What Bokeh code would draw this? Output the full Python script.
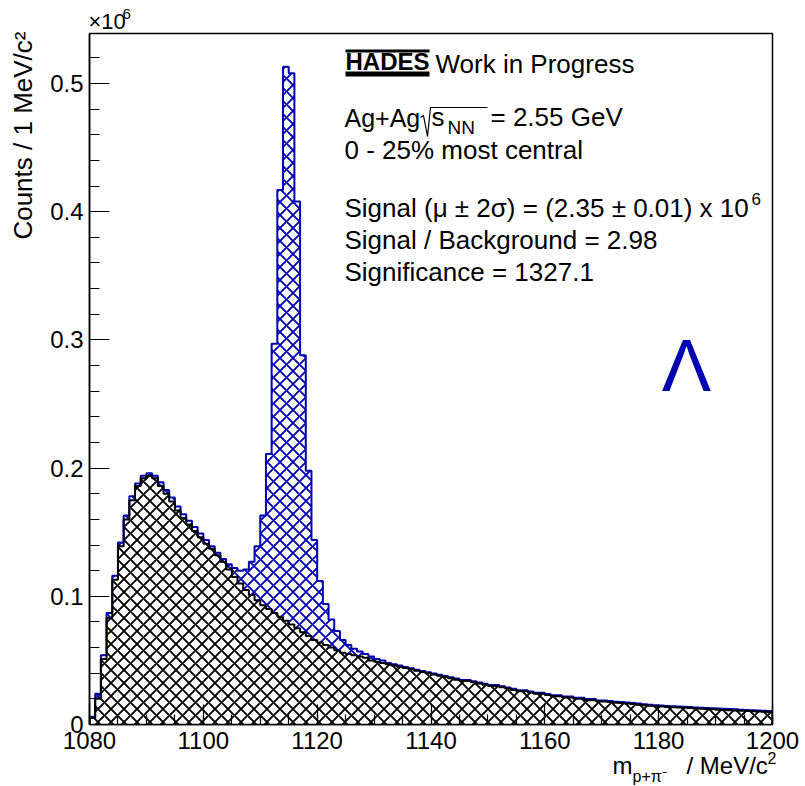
import numpy as np
from bokeh.plotting import figure
from bokeh.models import FixedTicker, NumeralTickFormatter, Range1d
from bokeh.core.properties import value
from bokeh.embed import file_html
from bokeh.resources import INLINE

# ---------------- data (counts in units of 10^6 per 1 MeV/c^2 bin) ----------------
bin_low = 1080
bin_width = 1
total = [
    0.006, 0.024, 0.054, 0.087, 0.116, 0.142, 0.163, 0.178, 0.188, 0.194,
    0.196, 0.194, 0.189, 0.183, 0.177, 0.170, 0.164, 0.159, 0.154, 0.149,
    0.144, 0.139, 0.134, 0.129, 0.125, 0.122, 0.120, 0.121, 0.127, 0.139,
    0.163, 0.211, 0.297, 0.417, 0.513, 0.508, 0.408, 0.288, 0.198, 0.144,
    0.112, 0.094, 0.082, 0.073, 0.066, 0.062, 0.059, 0.057, 0.055, 0.053,
    0.051, 0.050, 0.048, 0.047, 0.046, 0.0448, 0.0438, 0.0428, 0.0418, 0.0408,
    0.0398, 0.0388, 0.0378, 0.0368, 0.0358, 0.0348, 0.0348, 0.0338, 0.0328, 0.0318,
    0.0308, 0.0308, 0.0298, 0.0288, 0.0278, 0.0268, 0.0268, 0.0258, 0.0248, 0.0248,
    0.0238, 0.0228, 0.0228, 0.0218, 0.0218, 0.0208, 0.0208, 0.0198, 0.0198, 0.0188,
    0.0188, 0.0183, 0.0178, 0.0175, 0.0171, 0.0168, 0.0163, 0.0158, 0.0155, 0.0151,
    0.0148, 0.0145, 0.0142, 0.0140, 0.0138, 0.0136, 0.0133, 0.0131, 0.0128, 0.0126,
    0.0124, 0.0122, 0.0120, 0.0118, 0.0116, 0.0114, 0.0112, 0.0110, 0.0108, 0.0106,
]
background = [
    0.005, 0.020, 0.051, 0.083, 0.113, 0.139, 0.160, 0.175, 0.186, 0.192,
    0.194, 0.192, 0.186, 0.180, 0.174, 0.167, 0.161, 0.156, 0.151, 0.146,
    0.141, 0.137, 0.132, 0.127, 0.121, 0.115, 0.110, 0.105, 0.101, 0.097,
    0.093, 0.090, 0.087, 0.084, 0.081, 0.078, 0.075, 0.072, 0.069, 0.066,
    0.064, 0.062, 0.060, 0.058, 0.056, 0.055, 0.054, 0.053, 0.052, 0.050,
    0.049, 0.048, 0.047, 0.046, 0.045, 0.044, 0.043, 0.042, 0.041, 0.040,
    0.039, 0.038, 0.037, 0.036, 0.035, 0.034, 0.034, 0.033, 0.032, 0.031,
    0.030, 0.030, 0.029, 0.028, 0.027, 0.026, 0.026, 0.025, 0.024, 0.024,
    0.023, 0.022, 0.022, 0.021, 0.021, 0.020, 0.020, 0.019, 0.019, 0.018,
    0.018, 0.0175, 0.017, 0.0167, 0.0163, 0.016, 0.0155, 0.015, 0.0147, 0.0143,
    0.014, 0.0137, 0.0134, 0.0132, 0.013, 0.0128, 0.0125, 0.0123, 0.012, 0.0118,
    0.0116, 0.0114, 0.0112, 0.011, 0.0108, 0.0106, 0.0104, 0.0102, 0.010, 0.0098,
]
x_ticks = [1080, 1100, 1120, 1140, 1160, 1180, 1200]
y_ticks = [0, 0.1, 0.2, 0.3, 0.4, 0.5]

# ---------------- geometry helpers ----------------
W, H = 805, 786
FL, FR, FT, FB = 89, 772, 33, 724      # frame edges in pixels
XMIN, XMAX = 1080, 1200
YMIN, YMAX = 0.0, 0.539
BASE_SHIFT = 0.4   # glyph baseline offset (in em) observed for the text glyph


def dx(px):
    return XMIN + (px - FL) * (XMAX - XMIN) / (FR - FL)


def dy(py):
    return YMIN + (FB - py) * (YMAX - YMIN) / (FB - FT)


BLUE = "#0000b0"
FONT = "Liberation Sans"

nb = len(total)
edges = bin_low + bin_width * np.arange(nb + 1)
xs = np.repeat(edges, 2)


def step_y(vals):
    return np.concatenate([[0.0], np.repeat(np.asarray(vals, float), 2), [0.0]])


p = figure(width=W, height=H, x_range=Range1d(XMIN, XMAX), y_range=Range1d(YMIN, YMAX),
           output_backend="svg", toolbar_location=None,
           min_border_left=FL, min_border_right=W - FR, min_border_top=FT,
           min_border_bottom=H - FB)
p.xgrid.visible = False
p.ygrid.visible = False
p.outline_line_color = "black"
p.outline_line_width = 1.5
p.background_fill_color = "white"
p.border_fill_color = "white"

HSCALE = 13
HW = 1.9
# total (signal + background)
p.patch(xs, step_y(total), fill_color="white", line_color=None,
        hatch_pattern="diagonal_cross", hatch_color=BLUE, hatch_scale=HSCALE, hatch_weight=HW)
# background
p.patch(xs, step_y(background), fill_color="white", line_color=None,
        hatch_pattern="diagonal_cross", hatch_color="black", hatch_scale=HSCALE, hatch_weight=HW)
p.line(xs, step_y(total), line_color=BLUE, line_width=2)
p.line(xs, step_y(background), line_color="black", line_width=2)

# axes
for ax in (p.xaxis[0], p.yaxis[0]):
    ax.axis_line_color = "black"
    ax.axis_line_width = 1.5
    ax.major_tick_in = 20
    ax.major_tick_out = 0
    ax.minor_tick_in = 10
    ax.minor_tick_out = 0
    ax.major_tick_line_color = "black"
    ax.minor_tick_line_color = "black"
    ax.major_tick_line_width = 1.2
    ax.minor_tick_line_width = 1.2
    ax.major_label_text_font = FONT
    ax.major_label_text_font_size = "24px"
    ax.major_label_text_color = "black"

p.xaxis[0].ticker = FixedTicker(ticks=x_ticks, minor_ticks=list(range(1080, 1201, 5)))
p.yaxis[0].ticker = FixedTicker(ticks=y_ticks, minor_ticks=[i * 0.02 for i in range(27)])
p.yaxis[0].formatter = NumeralTickFormatter(format="0.[0]")
p.xaxis[0].major_label_standoff = 7
p.yaxis[0].major_label_standoff = 6


def lab(text, px, py, size, color="black", align="left", style="normal"):
    """px, py: wanted left/centre x and visual baseline y in pixels."""
    p.text(x=[dx(px)], y=[dy(py - BASE_SHIFT * size)], text=[text], text_font=value(FONT),
           text_font_size=value(f"{size}px"), text_color=color, text_align=align,
           text_baseline="alphabetic", text_font_style=style, level="overlay")


# y axis title (rotated, right aligned at the top of the axis)
p.text(x=[dx(33 - BASE_SHIFT * 26)], y=[dy(31)], text=["Counts / 1 MeV/c\u00b2"],
       text_font=value(FONT), text_font_size=value("26px"), text_color="black",
       text_align="right", text_baseline="alphabetic", angle=np.pi / 2, level="overlay")

# x axis title
lab("m", 612, 775, 24)
lab("p+\u03c0\u207b", 632, 782, 16)
lab("/ MeV/c", 686, 775, 24)
lab("2", 767, 764, 16)

# exponent of the y axis
lab("\u00d710", 88, 30, 22)
lab("6", 122, 19, 15)

# HADES logo
lab("HADES", 345, 71, 24, style="bold")
p.line([dx(345), dx(429)], [dy(50.5), dy(50.5)], line_color="black", line_width=3)
p.line([dx(345), dx(429)], [dy(73.5), dy(73.5)], line_color="black", line_width=5)
lab("Work in Progress", 435, 74, 26)

# collision system line with sqrt(s_NN)
lab("Ag+Ag", 344, 127, 25)
p.line([dx(420), dx(423), dx(427), dx(430), dx(487)],
       [dy(117), dy(115), dy(136), dy(107), dy(107)], line_color="black", line_width=1.2)
lab("s", 431, 127, 26)
lab("NN", 447, 135, 19)
lab("= 2.55 GeV", 490, 127, 26)
lab("0 - 25% most central", 344, 160, 26)

lab("Signal (\u03bc \u00b1 2\u03c3) = (2.35 \u00b1 0.01) x 10", 344, 218, 26)
lab("6", 751, 205, 17)
lab("Signal / Background = 2.98", 344, 250, 26)
lab("Significance = 1327.1", 344, 282, 26)

lab("\u039b", 686, 395, 74, color=BLUE, align="center")

open("out.html", "w").write(file_html(p, INLINE))
